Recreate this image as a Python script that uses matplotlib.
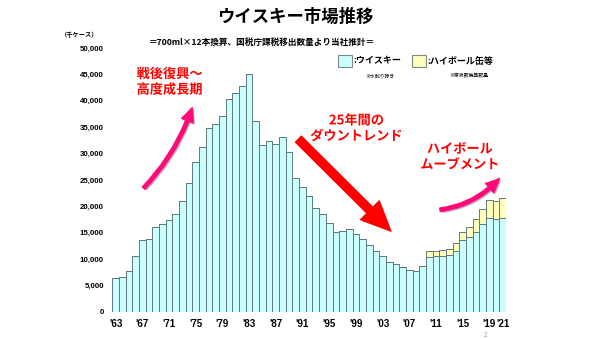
import matplotlib; matplotlib.use("Agg")
import matplotlib.pyplot as plt
import matplotlib.patheffects as pe
from matplotlib.patches import Rectangle
import numpy as np

plt.rcParams['font.family'] = ['Noto Sans CJK JP', 'DejaVu Sans']

# 1963..2021, thousand cases (700ml x 12 equivalent)
YEARS = list(range(1963, 2022))
WHISKY = [6500, 6700, 7800, 10600, 13700, 13800, 16100, 16600, 17500, 18500,
          21100, 24500, 28400, 31200, 34800, 35600, 37200, 40400, 41500, 42800,
          45000, 36100, 31550, 32300, 31850, 33150, 30250, 25300, 23650, 21900,
          19750, 18550, 16850, 15100, 15300, 15750, 14750, 13750, 12650, 11550,
          10600, 9400, 9050, 8550, 8000, 7800, 8750, 10400, 10550, 10650,
          10850, 11600, 13550, 14200, 15200, 16600, 17800, 17650, 17850]
HIGHBALL = [0] * 47 + [1070, 1070, 1010, 1130, 1450, 1640, 1950, 2400,
                       2830, 3400, 3400, 3720]
XTICKS = list(range(1963, 2020, 4)) + [2021]
XLABELS = ["'%02d" % (y % 100) for y in XTICKS]

C_WH = "#ccffff"
C_HB = "#ffffbb"
EDGE = "#5f7a7a"

fig = plt.figure(figsize=(5.9, 3.39), dpi=100)
ax = fig.add_axes([112.3/590, 1 - 312/339, (506-112.3)/590, 264/339])

ax.bar(YEARS, WHISKY, width=1.0, color=C_WH, edgecolor=EDGE, linewidth=0.7)
ax.bar(YEARS, HIGHBALL, width=1.0, bottom=WHISKY, color=C_HB, edgecolor=EDGE,
       linewidth=0.7)

ax.set_xlim(1962.5, 2021.5)
ax.set_ylim(0, 50000)
ax.set_yticks(range(0, 50001, 5000))
ax.set_yticklabels([f"{v:,}" for v in range(0, 50001, 5000)],
                   fontsize=5.7, fontweight="bold", family="Liberation Sans")
ax.set_xticks(XTICKS)
ax.set_xticklabels(XLABELS, fontsize=7, fontweight="bold", family="Liberation Sans")
ax.tick_params(length=0)
ax.tick_params(axis="y", pad=6)
ax.tick_params(axis="x", pad=5)
for s in ax.spines.values():
    s.set_visible(False)

# titles
fig.text(0.5, 1 - 17/339, "ウイスキー市場推移", ha="center", va="center",
         fontsize=12.5, fontweight="bold")
fig.text(262/590, 1 - 42/339, "＝700ml×12本換算、国税庁課税移出数量より当社推計＝",
         ha="center", va="center", fontsize=6.2, fontweight="bold")
fig.text(80/590, 1 - 34/339, "（千ケース）", ha="center", va="center",
         fontsize=4.5, fontweight="bold")

# legend
for x0, col, lab, note, nx in [(338, C_WH, ":ウイスキー", "※水割り除き", 380),
                               (412, C_HB, ":ハイボール缶等", "※原液数換算数量", 469)]:
    fig.patches.append(Rectangle((x0/590, 1 - 67/339), 14/590, 12/339,
                                 transform=fig.transFigure, facecolor=col,
                                 edgecolor="#7a8a8a", linewidth=0.8))
    fig.text((x0 + 15)/590, 1 - 61/339, lab, ha="left", va="center",
             fontsize=6.5, fontweight="bold")
    fig.text(nx/590, 1 - 76/339, note, ha="center", va="center", fontsize=3.5)

# annotations
shadow = [pe.withSimplePatchShadow(offset=(1.2, -1.2), shadow_rgbFace="#b0a0b0", alpha=0.8)]
txt_fx = [pe.withStroke(linewidth=1.2, foreground="white")]
for x, y, t in [(1971.1, 43600, "戦後復興～\n高度成長期"),
                (1999.1, 34800, "25年間の\nダウントレンド"),
                (2014.6, 29400, "ハイボール\nムーブメント")]:
    ax.text(x, y, t, ha="center", va="center", color="#ff0000", fontsize=9.5,
            fontweight="bold", linespacing=1.15, path_effects=txt_fx)

ax.annotate("", xy=(1974.6, 39200), xytext=(1966.9, 23100),
            arrowprops=dict(arrowstyle="simple,head_length=1.0,head_width=0.9,tail_width=0.25",
                            mutation_scale=10, color="#ff0a78",
                            connectionstyle="arc3,rad=0.12", path_effects=shadow))
ax.annotate("", xy=(2004.5, 15000), xytext=(1990.1, 33100),
            arrowprops=dict(arrowstyle="simple,head_length=2.1,head_width=1.9,tail_width=0.6",
                            mutation_scale=10, color="#ff0000", path_effects=shadow))
ax.annotate("", xy=(2020.8, 25700), xytext=(2011.2, 19300),
            arrowprops=dict(arrowstyle="simple,head_length=1.0,head_width=0.9,tail_width=0.25",
                            mutation_scale=10, color="#ff0a78",
                            connectionstyle="arc3,rad=0.2", path_effects=shadow))

fig.text(486/590, 1 - 335/339, "2", ha="center", va="center", fontsize=4.5, color="#999999")

fig.savefig("out.png", dpi=100)
